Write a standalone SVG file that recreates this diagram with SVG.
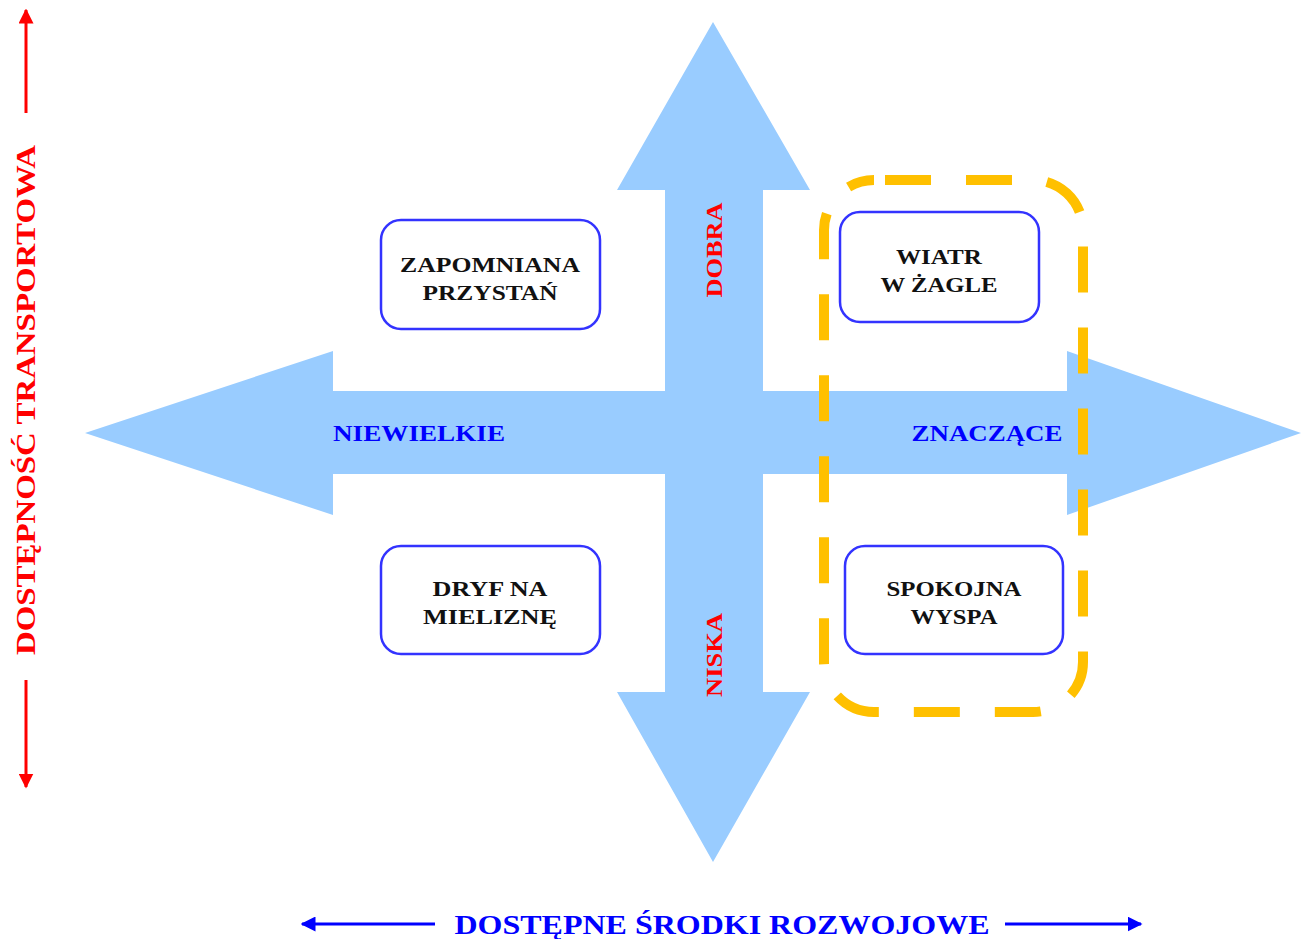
<svg xmlns="http://www.w3.org/2000/svg" width="1301" height="939" viewBox="0 0 1301 939">
<style>
.arrow{fill:#99CCFF}
.box{fill:#fff;stroke:#3333FF;stroke-width:2.5}
.bt{font-family:"Liberation Serif",serif;font-weight:bold;font-size:22px;fill:#111;text-anchor:middle}
.red{font-family:"Liberation Serif",serif;font-weight:bold;fill:#FF0000;text-anchor:middle}
.blue{font-family:"Liberation Serif",serif;font-weight:bold;fill:#0000FF;text-anchor:middle}
</style>
<defs>
<marker id="mr" viewBox="0 0 10 10" refX="9" refY="5" markerWidth="5" markerHeight="5" orient="auto"><path d="M0,0 L10,5 L0,10 z" fill="#FF0000"/></marker>
<marker id="mb" viewBox="0 0 10 10" refX="9" refY="5" markerWidth="5" markerHeight="5" orient="auto"><path d="M0,0 L10,5 L0,10 z" fill="#0000FF"/></marker>
</defs>
<rect width="1301" height="939" fill="#fff"/>
<g id="connectors">
<path class="arrow" d="M713,22 L810,190 L763,190 L763,391 L1067,391 L1067,351 L1301,433 L1067,515 L1067,474 L763,474 L763,692 L810,692 L713,862 L617,692 L665,692 L665,474 L333,474 L333,515 L85,433 L333,351 L333,391 L665,391 L665,190 L617,190 Z"/>
<line x1="26" y1="113" x2="26" y2="10" stroke="#FF0000" stroke-width="3" marker-end="url(#mr)"/>
<line x1="26" y1="680" x2="26" y2="787" stroke="#FF0000" stroke-width="3" marker-end="url(#mr)"/>
<line x1="435" y1="924" x2="302" y2="924" stroke="#0000FF" stroke-width="3" marker-end="url(#mb)"/>
<line x1="1005" y1="924" x2="1141" y2="924" stroke="#0000FF" stroke-width="3" marker-end="url(#mb)"/>
</g>
<g id="labels">
<text class="red" font-size="24" textLength="95" lengthAdjust="spacingAndGlyphs" transform="translate(722,250) rotate(-90)">DOBRA</text>
<text class="red" font-size="24" textLength="84" lengthAdjust="spacingAndGlyphs" transform="translate(722,655) rotate(-90)">NISKA</text>
<text class="blue" font-size="24" x="419" y="441" textLength="172" lengthAdjust="spacingAndGlyphs">NIEWIELKIE</text>
<text class="blue" font-size="24" x="987" y="441" textLength="151" lengthAdjust="spacingAndGlyphs">ZNACZĄCE</text>
<text class="red" font-size="28" transform="translate(35,400) rotate(-90)" textLength="510" lengthAdjust="spacingAndGlyphs">DOSTĘPNOŚĆ TRANSPORTOWA</text>
<text class="blue" font-size="28" x="722" y="934" textLength="535" lengthAdjust="spacingAndGlyphs">DOSTĘPNE ŚRODKI ROZWOJOWE</text>
</g>
<g id="n1"><rect class="box" x="381" y="220" width="219" height="109" rx="20"/><text class="bt" x="490" y="272" textLength="180" lengthAdjust="spacingAndGlyphs">ZAPOMNIANA</text><text class="bt" x="490" y="300" textLength="135" lengthAdjust="spacingAndGlyphs">PRZYSTAŃ</text></g>
<g id="n2"><rect class="box" x="840" y="212" width="199" height="110" rx="20"/><text class="bt" x="939" y="264" textLength="86" lengthAdjust="spacingAndGlyphs">WIATR</text><text class="bt" x="939" y="292" textLength="117" lengthAdjust="spacingAndGlyphs">W ŻAGLE</text></g>
<g id="n3"><rect class="box" x="381" y="546" width="219" height="108" rx="20"/><text class="bt" x="490" y="596" textLength="115" lengthAdjust="spacingAndGlyphs">DRYF NA</text><text class="bt" x="490" y="624" textLength="134" lengthAdjust="spacingAndGlyphs">MIELIZNĘ</text></g>
<g id="n4"><rect class="box" x="845" y="546" width="218" height="108" rx="20"/><text class="bt" x="954" y="596" textLength="135" lengthAdjust="spacingAndGlyphs">SPOKOJNA</text><text class="bt" x="954" y="624" textLength="87" lengthAdjust="spacingAndGlyphs">WYSPA</text></g>
<g id="group"><rect x="824" y="180" width="259" height="532" rx="50" fill="none" stroke="#FFC000" stroke-width="10" stroke-dasharray="46,35" stroke-dashoffset="-11"/></g>
</svg>
